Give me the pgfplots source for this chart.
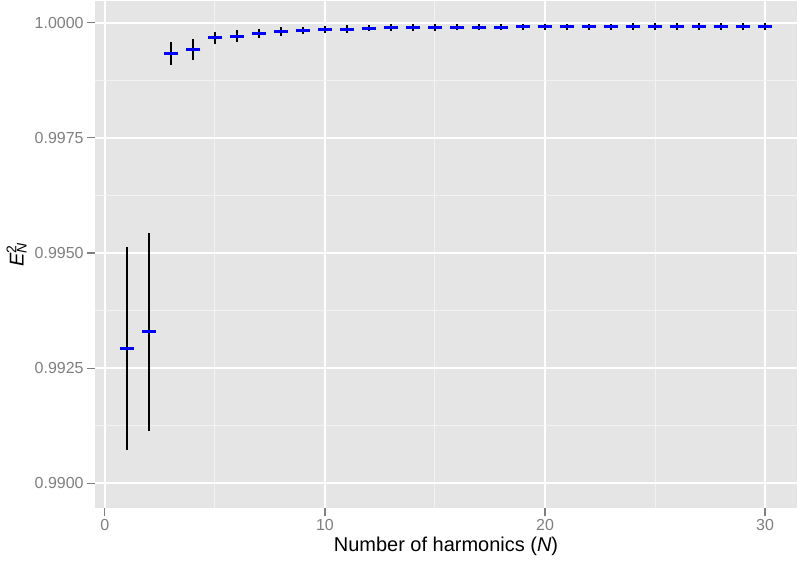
\documentclass[border=0pt]{standalone}
\usepackage{fontspec}
\setmainfont{Liberation Sans}
\usepackage{pgfplots}
\pgfplotsset{compat=1.18}
\usepackage{pgfplotstable}

\definecolor{panelbg}{HTML}{E5E5E5}
\definecolor{minorgrid}{HTML}{F2F2F2}
\definecolor{ticktxt}{HTML}{7F7F7F}

\pgfplotstableread{
x y e
1 0.99293 0.00221
2 0.99329 0.00215
3 0.99934 0.00025
4 0.99942 0.00022
5 0.99967 0.00013
6 0.99971 0.00012
7 0.99977 0.00010
8 0.99981 0.00009
9 0.99983 0.00008
10 0.99985 0.00008
11 0.99986 0.00008
12 0.99988 0.00007
13 0.99989 0.00007
14 0.99989 0.00007
15 0.99989 0.00007
16 0.99990 0.00007
17 0.99990 0.00007
18 0.99990 0.00007
19 0.99991 0.00007
20 0.99991 0.00007
21 0.99991 0.00007
22 0.99991 0.00007
23 0.99991 0.00007
24 0.99992 0.00007
25 0.99992 0.00007
26 0.99992 0.00007
27 0.99992 0.00007
28 0.99992 0.00007
29 0.99992 0.00007
30 0.99992 0.00007
}\harmonics

\begin{document}
\begin{tikzpicture}
\begin{axis}[
    scale only axis,
    width=351.5pt, height=254pt,
    xmin=-0.45, xmax=31.45,
    ymin=0.98946, ymax=1.00047,
    axis background/.style={fill=panelbg},
    axis line style={draw=none},
    xtick pos=bottom, ytick pos=left,
    xtick={0,10,20,30},
    minor xtick={5,15,25},
    ytick={0.99,0.9925,0.995,0.9975,1},
    minor ytick={0.99125,0.99375,0.99625,0.99875},
    grid=both,
    major grid style={white, line width=1pt},
    minor grid style={minorgrid, line width=0.5pt},
    tick align=outside,
    major tick length=4pt,
    minor tick length=0pt,
    tick style={ticktxt, line width=0.6pt},
    every tick label/.append style={text=ticktxt, font=\fontsize{8}{9.6}\selectfont, inner sep=1.5pt},
    /pgf/number format/assume math mode=true,
    yticklabel style={/pgf/number format/.cd, fixed, fixed zerofill, precision=4},
    xticklabel style={/pgf/number format/.cd, fixed},
    scaled y ticks=false,
    xlabel={Number of harmonics (\textit{N})},
    ylabel={\textit{E}\rlap{\textsuperscript{2}}\textsubscript{\textit{N}}},
    label style={font=\fontsize{10}{12}\selectfont},
    xlabel style={yshift=2pt},
    ylabel style={yshift=-1pt},
]
\addplot[only marks, mark=-, mark size=3.4pt, mark options={blue, line width=1.5pt}]
    table[x=x, y=y] {\harmonics};
\addplot[draw=none, mark=none, forget plot,
    error bars/.cd, y dir=both, y explicit, error mark=none,
    error bar style={solid, draw=black, line width=1.1pt}]
    table[x=x, y=y, y error=e] {\harmonics};
\end{axis}
\end{tikzpicture}
\end{document}
